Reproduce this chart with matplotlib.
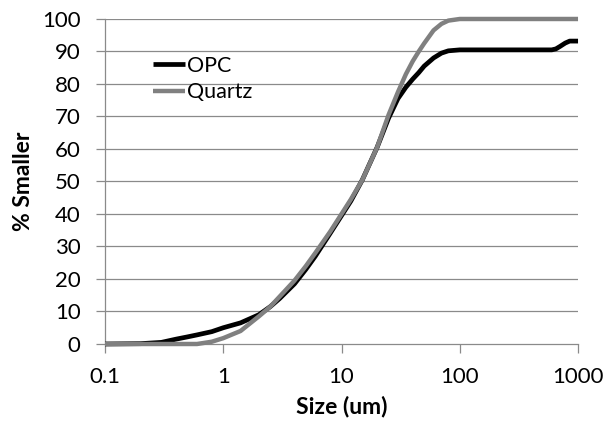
import matplotlib
matplotlib.use("Agg")
import matplotlib.pyplot as plt
from matplotlib.ticker import FixedLocator, FixedFormatter

plt.rcParams["font.family"] = ["Lato", "DejaVu Sans"]

# particle size (um) and cumulative % finer
size_um = [0.1, 0.2, 0.3, 0.4, 0.5, 0.6, 0.8, 1.0, 1.4, 2.0, 2.5, 3.0,
           4.0, 5.0, 6.0, 8.0, 10, 12, 15, 20, 25, 30, 35, 40, 45, 50, 60,
           70, 80, 100, 200, 400, 600, 650, 700, 780, 850, 1000]
opc = [0, 0.1, 0.5, 1.5, 2.2, 2.8, 3.8, 5.0, 6.5, 9.0, 11.5, 14.0,
       18.5, 23.0, 27.0, 34.0, 39.5, 44.0, 50.5, 60.5, 69.5, 75.5, 79.0,
       81.5, 83.5, 85.5, 88.0, 89.5, 90.2, 90.5, 90.5, 90.5, 90.5, 90.8,
       91.5, 92.6, 93.2, 93.2]
quartz = [0, 0, 0, 0, 0, 0, 0.7, 1.8, 4.0, 8.5, 11.5, 14.6,
          19.5, 24.0, 28.0, 34.5, 40.0, 44.5, 50.5, 60.5, 70.5, 77.5, 83.0,
          87.0, 90.0, 92.5, 96.5, 98.5, 99.5, 100, 100, 100, 100, 100,
          100, 100, 100, 100]

x_ticks = [0.1, 1, 10, 100, 1000]
x_labels = ["0.1", "1", "10", "100", "1000"]
y_ticks = list(range(0, 101, 10))

fig = plt.figure(figsize=(6.08, 4.21), dpi=100)
ax = fig.add_axes([0.1727, 0.1829, 0.778, 0.772])

grid_col = "#8a8a8a"
for y in y_ticks[1:]:
    ax.axhline(y, color=grid_col, lw=0.9, zorder=1)

ax.plot(size_um, opc, color="black", lw=3.4, label="OPC",
        solid_capstyle="butt", solid_joinstyle="round", clip_on=False,
        zorder=3)
ax.plot(size_um, quartz, color="#808080", lw=3.2, label="Quartz",
        solid_capstyle="butt", solid_joinstyle="round", clip_on=False,
        zorder=3)

ax.set_xscale("log")
ax.set_xlim(0.1, 1000)
ax.set_ylim(0, 100)
ax.xaxis.set_major_locator(FixedLocator(x_ticks))
ax.xaxis.set_major_formatter(FixedFormatter(x_labels))
ax.xaxis.set_minor_locator(FixedLocator([]))
ax.set_yticks(y_ticks)

for side in ["top", "right"]:
    ax.spines[side].set_visible(False)
for side in ["left", "bottom"]:
    ax.spines[side].set_color(grid_col)
    ax.spines[side].set_linewidth(0.9)

ax.tick_params(axis="both", direction="out", length=6.5, width=0.9,
               color=grid_col, labelsize=16, labelcolor="black")
ax.tick_params(axis="y", pad=11)
ax.tick_params(axis="x", pad=10)

ax.set_xlabel("Size (um)", fontsize=16.5, fontweight="bold", labelpad=6)
ax.set_ylabel("% Smaller", fontsize=16.5, fontweight="bold", labelpad=6)

ax.legend(loc="center left", bbox_to_anchor=(0.1015, 0.815), frameon=False,
          fontsize=15.5, handlelength=1.5, handletextpad=0.1,
          labelspacing=0.3, borderpad=0, borderaxespad=0)

fig.savefig("out.png", dpi=100)
